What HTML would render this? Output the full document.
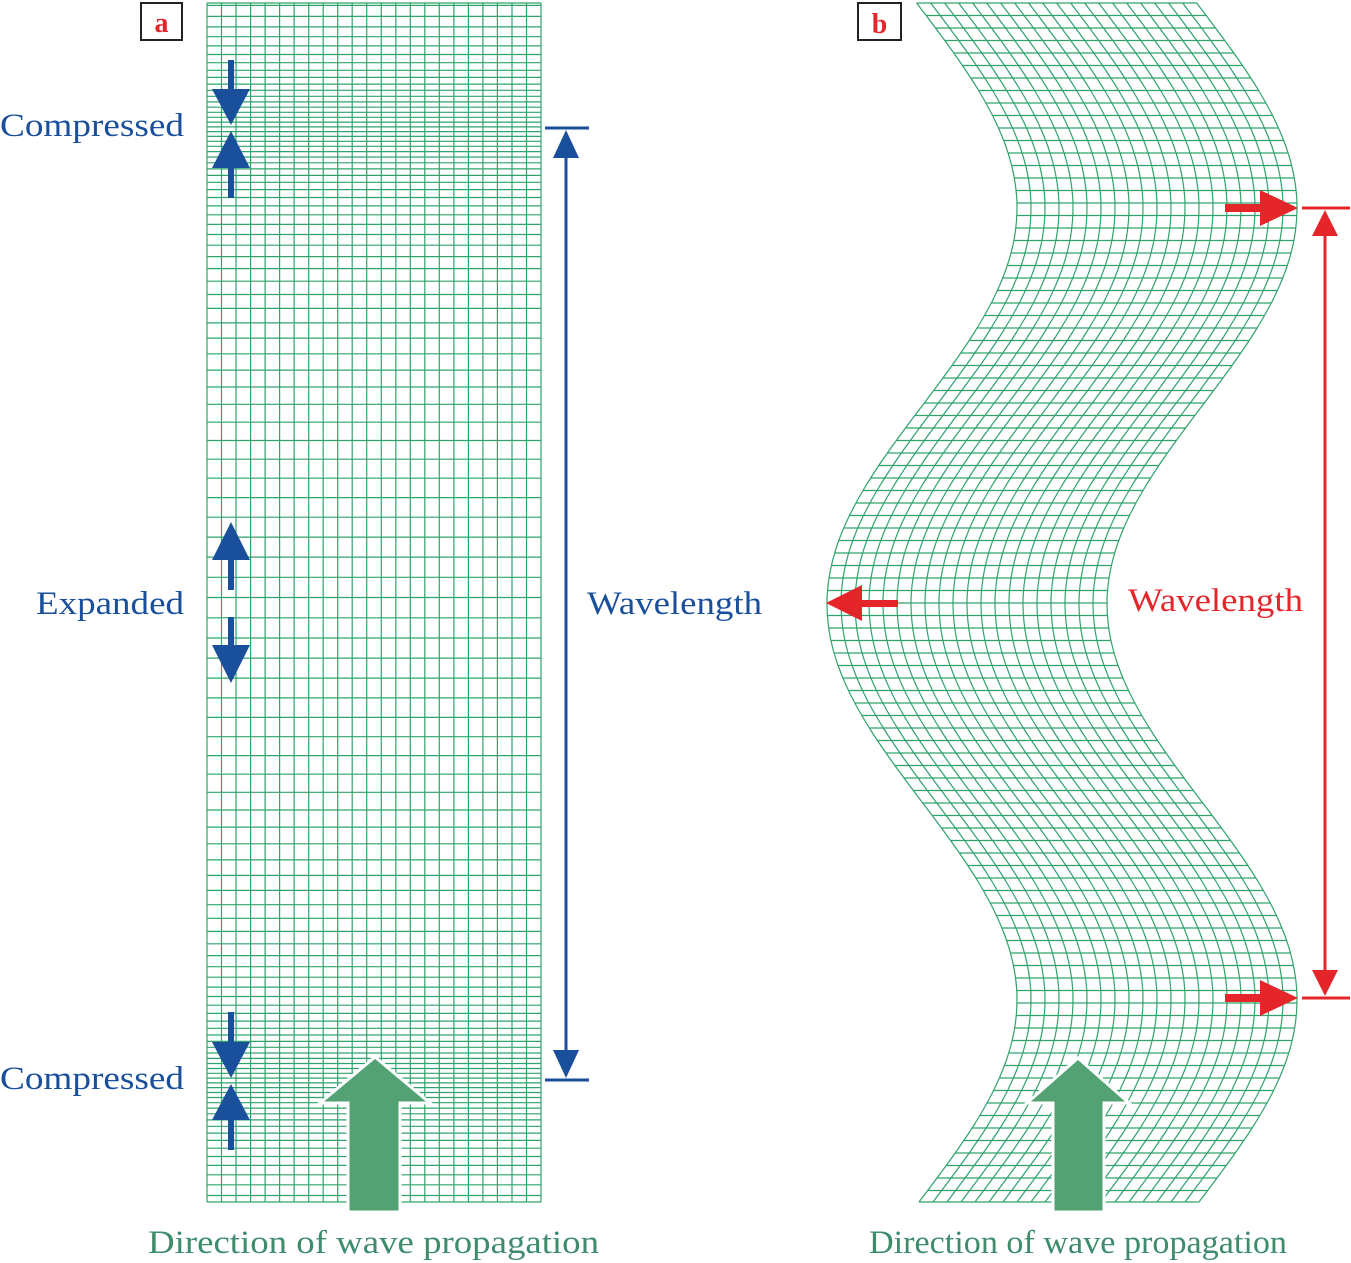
<!DOCTYPE html>
<html><head><meta charset="utf-8"><style>
html,body{margin:0;padding:0;background:#fff;}
svg{display:block;}
text{font-family:"Liberation Serif",serif;}
</style></head><body>
<svg id="s" width="1351" height="1263" viewBox="0 0 1351 1263" xmlns="http://www.w3.org/2000/svg">
<g id="ga" stroke="#2fa36b" stroke-width="1.2" fill="none"></g>
<g id="gb" stroke="#2fa36b" stroke-width="1.2" fill="none"></g>
<rect x="141" y="3" width="41" height="37" fill="#fff" stroke="#222" stroke-width="2"/>
<text x="161.5" y="32" font-size="28" font-weight="bold" fill="#e4262b" text-anchor="middle">a</text>
<rect x="858" y="3" width="43" height="37" fill="#fff" stroke="#222" stroke-width="2"/>
<text x="879.5" y="33" font-size="28" font-weight="bold" fill="#e4262b" text-anchor="middle">b</text>
<g fill="#1a4f9c">
<rect x="228" y="60" width="6" height="32"/><polygon points="212,89 250,89 231,125"/>
<polygon points="212,168 250,168 231,131"/><rect x="228" y="166" width="6" height="32"/>
<polygon points="212,560 250,560 231,522"/><rect x="228" y="558" width="6" height="32"/>
<rect x="228" y="617" width="6" height="30"/><polygon points="212,645 250,645 231,683"/>
<rect x="228" y="1012" width="6" height="32"/><polygon points="212,1042 250,1042 231,1078"/>
<polygon points="212,1120 250,1120 231,1084"/><rect x="228" y="1118" width="6" height="32"/>
</g>
<g stroke="#1a4f9c" stroke-width="3" fill="#1a4f9c">
<line x1="545" y1="128" x2="589" y2="128"/><line x1="545" y1="1080" x2="589" y2="1080"/>
<line x1="566" y1="150" x2="566" y2="1058"/>
<polygon stroke="none" points="566,130 553,158 579,158"/>
<polygon stroke="none" points="566,1078 553,1050 579,1050"/>
</g>
<g stroke="#e4262b" stroke-width="3" fill="#e4262b">
<line x1="1302" y1="208" x2="1350" y2="208"/><line x1="1302" y1="998" x2="1350" y2="998"/>
<line x1="1325" y1="230" x2="1325" y2="976"/>
<polygon stroke="none" points="1325,210 1312,236 1338,236"/>
<polygon stroke="none" points="1325,996 1312,970 1338,970"/>
</g>
<g fill="#e4262b">
<rect x="1225" y="204" width="38" height="8"/><polygon points="1260,190 1260,226 1298,208"/>
<rect x="1225" y="994" width="38" height="8"/><polygon points="1260,980 1260,1016 1298,998"/>
<rect x="858" y="600" width="40" height="7"/><polygon points="862,585 862,621 826,603"/>
</g>
<polygon points="375,1057 430,1103 400,1103 400,1212 348,1212 348,1103 320,1103" fill="#52a273" stroke="#fff" stroke-width="3"/>
<polygon points="1078,1058 1129,1103 1104,1103 1104,1212 1053,1212 1053,1103 1027,1103" fill="#52a273" stroke="#fff" stroke-width="3"/>
<g font-size="33" fill="#1a4f9c">
<text x="0" y="136" textLength="184" lengthAdjust="spacingAndGlyphs">Compressed</text>
<text x="36" y="614" textLength="148" lengthAdjust="spacingAndGlyphs">Expanded</text>
<text x="0" y="1089" textLength="184" lengthAdjust="spacingAndGlyphs">Compressed</text>
<text x="587" y="614" textLength="175" lengthAdjust="spacingAndGlyphs">Wavelength</text>
</g>
<text x="1128" y="611" font-size="33" fill="#e4262b" textLength="175" lengthAdjust="spacingAndGlyphs">Wavelength</text>
<text x="148" y="1253" font-size="33" fill="#3e8c6c" textLength="451" lengthAdjust="spacingAndGlyphs">Direction of wave propagation</text>
<text x="869" y="1253" font-size="33" fill="#3e8c6c" textLength="418" lengthAdjust="spacingAndGlyphs">Direction of wave propagation</text>
</svg>
<script>
(function(){
var ga=document.getElementById('ga'),gb=document.getElementById('gb');
var d='';
var x0=207,x1=541,nc=23,cw=(x1-x0)/nc;
for(var j=0;j<=nc;j++){var x=(x0+j*cw).toFixed(1);d+='M'+x+' 3V1202';}
var k=2*Math.PI/952,A=0.62/k;
for(var s=-200;s<1400;s+=12.5){
 var y=s-A*Math.sin(k*(s-128));
 if(y<3||y>1202)continue;
 d+='M'+x0+' '+y.toFixed(1)+'H'+x1;
}
d+='M'+x0+' 3H'+x1+'M'+x0+' 1202H'+x1;
var p=document.createElementNS('http://www.w3.org/2000/svg','path');p.setAttribute('d',d);ga.appendChild(p);
function c(y){return 1062+95*Math.cos(2*Math.PI*(y-208)/792);}
var db='';
for(var y=3;y<=1203;y+=12.5){var yy=Math.min(y,1202);db+='M'+(c(yy)-140).toFixed(1)+' '+yy+'H'+(c(yy)+140).toFixed(1);}
for(var j=0;j<=20;j++){
 var s2='';
 for(var y=3;y<=1202;y+=6){s2+=(s2?'L':'M')+(c(y)-140+j*14).toFixed(1)+' '+y;}
 s2+='L'+(c(1202)-140+j*14).toFixed(1)+' 1202';
 db+=s2;
}
var q=document.createElementNS('http://www.w3.org/2000/svg','path');q.setAttribute('d',db);gb.appendChild(q);
})();
</script>
</body></html>
